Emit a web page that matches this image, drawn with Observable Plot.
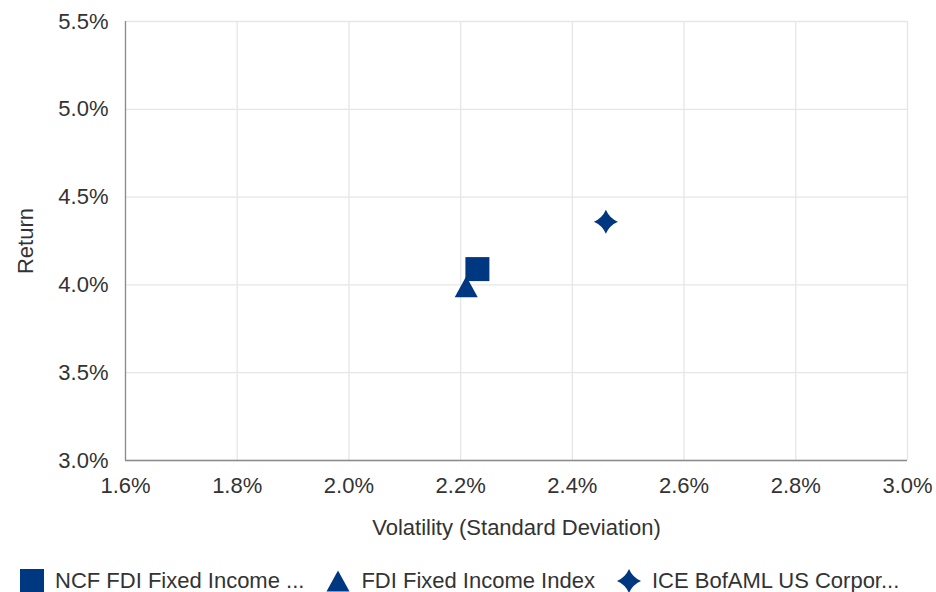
<!DOCTYPE html>
<html><head><meta charset="utf-8">
<script src="https://cdn.jsdelivr.net/npm/d3@7"></script>
<script src="https://cdn.jsdelivr.net/npm/@observablehq/plot@0.6"></script>
<style>
body{margin:0;background:#fff;font-family:"Liberation Sans",Arial,sans-serif;}
#legend{margin-top:14px;}
</style></head><body><div id="chart"></div><div id="legend"></div>
<script>
// Data
const series = ["NCF FDI Fixed Income ...", "FDI Fixed Income Index", "ICE BofAML US Corpor..."];
const volatility = [2.23, 2.21, 2.46];
const returns = [4.09, 3.99, 4.36];
const xTicks = [1.6, 1.8, 2.0, 2.2, 2.4, 2.6, 2.8, 3.0];
const yTicks = [3.0, 3.5, 4.0, 4.5, 5.0, 5.5];
const xLabel = "Volatility (Standard Deviation)";
const yLabel = "Return";

const color = "#003781";
const textColor = "#333333";
const font = "Liberation Sans, Arial, sans-serif";

const data = series.map((name, i) => ({name, vol: volatility[i], ret: returns[i]}));

// custom symbols (r = sqrt(size/PI))
const square = {draw(ctx, size) {
  const r = Math.sqrt(size / Math.PI);
  ctx.moveTo(-r, -r); ctx.lineTo(r, -r); ctx.lineTo(r, r); ctx.lineTo(-r, r); ctx.closePath();
}};
const triangle = {draw(ctx, size) {
  const r = Math.sqrt(size / Math.PI);
  const h = 0.875 * r, w = 0.96 * r;
  ctx.moveTo(0, -h); ctx.lineTo(w, h); ctx.lineTo(-w, h); ctx.closePath();
}};
const star4 = {draw(ctx, size) {
  const r = Math.sqrt(size / Math.PI);
  const c = 0.3 * r;
  ctx.moveTo(0, -r);
  ctx.quadraticCurveTo(c, -c, r, 0);
  ctx.quadraticCurveTo(c, c, 0, r);
  ctx.quadraticCurveTo(-c, c, -r, 0);
  ctx.quadraticCurveTo(-c, -c, 0, -r);
  ctx.closePath();
}};

const fmt = d => d.toFixed(1) + "%";

const plot = Plot.plot({
  width: 936,
  height: 550,
  marginLeft: 125,
  marginRight: 29,
  marginTop: 21,
  marginBottom: 90,
  style: {fontFamily: font, fontSize: "22px", color: textColor, background: "#fff"},
  x: {domain: [1.6, 3.0]},
  y: {domain: [3.0, 5.5]},
  symbol: {domain: series, range: [square, triangle, star4]},
  marks: [
    Plot.gridX(xTicks, {stroke: "#e6e6e6", strokeOpacity: 1, strokeWidth: 1.3}),
    Plot.gridY(yTicks, {stroke: "#e6e6e6", strokeOpacity: 1, strokeWidth: 1.3}),
    Plot.ruleY([3.0], {stroke: "#8c8c8c", strokeWidth: 1.3}),
    Plot.ruleX([1.6], {stroke: "#8c8c8c", strokeWidth: 1.3}),
    Plot.axisX(xTicks, {tickSize: 0, tickPadding: 17, tickFormat: fmt, fontSize: 22, fill: textColor, label: null}),
    Plot.axisY(yTicks, {tickSize: 0, tickPadding: 17, tickFormat: fmt, fontSize: 22, fill: textColor, label: null}),
    Plot.text([xLabel], {text: d => d, frameAnchor: "bottom", dy: 74, fontSize: 22, fill: textColor}),
    Plot.text([yLabel], {text: d => d, frameAnchor: "left", dx: -100, rotate: -90, textAnchor: "middle", fontSize: 22, fill: textColor}),
    Plot.dot(data, {x: "vol", y: "ret", symbol: "name", fill: color, stroke: "none", r: 12})
  ]
});
document.getElementById("chart").appendChild(plot);

const legend = plot.legend("symbol", {
  fill: color, stroke: "none", r: 8, swatchSize: 24, marginLeft: 20,
  style: {fontFamily: font, fontSize: "22px", color: textColor}
});
document.getElementById("legend").appendChild(legend);
</script></body></html>
